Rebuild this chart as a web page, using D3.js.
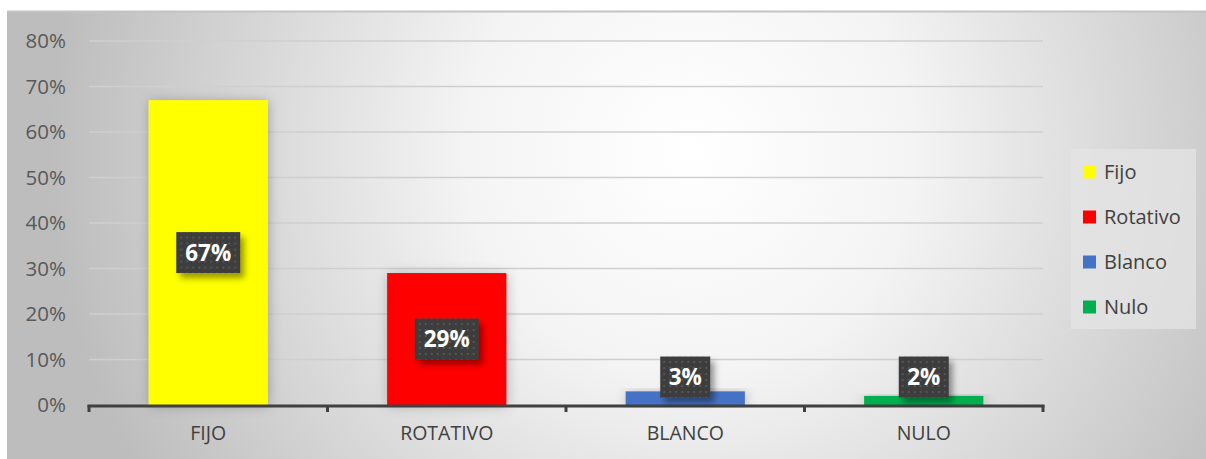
<!DOCTYPE html>
<html>
<head>
<meta charset="utf-8">
<script src="https://cdn.jsdelivr.net/npm/d3@7"></script>
<style>
  html, body { margin: 0; padding: 0; background: #fff; }
  svg { display: block; }
</style>
</head>
<body>
<svg id="chart" width="1206" height="459"></svg>
<script>
// Categories, values and legend names
const categories = ["FIJO", "ROTATIVO", "BLANCO", "NULO"];
const legendNames = ["Fijo", "Rotativo", "Blanco", "Nulo"];
const values = [0.67, 0.29, 0.03, 0.02];
const colors = ["#FFFF00", "#FF0000", "#4472C4", "#00B050"];
const yTicks = [0, 0.1, 0.2, 0.3, 0.4, 0.5, 0.6, 0.7, 0.8];

const svg = d3.select("#chart");
const W = 1206, H = 459;
const font = "'Open Sans', 'Noto Sans', 'Liberation Sans', sans-serif";

const defs = svg.append("defs");

// Radial background fill of the chart area
const bg = defs.append("radialGradient")
  .attr("id", "bgGrad")
  .attr("gradientUnits", "userSpaceOnUse")
  .attr("cx", 690).attr("cy", 150).attr("r", 640);
bg.append("stop").attr("offset", "0%").attr("stop-color", "#ffffff");
bg.append("stop").attr("offset", "35%").attr("stop-color", "#f4f4f4");
bg.append("stop").attr("offset", "100%").attr("stop-color", "#bdbdbd");

// Soft shadow for bars
const barShadow = defs.append("filter").attr("id", "barShadow")
  .attr("x", "-20%").attr("y", "-20%").attr("width", "140%").attr("height", "140%");
barShadow.append("feDropShadow")
  .attr("dx", 1).attr("dy", 1).attr("stdDeviation", 6)
  .attr("flood-color", "#000").attr("flood-opacity", 0.25);

// Shadow for label boxes
const lblShadow = defs.append("filter").attr("id", "lblShadow")
  .attr("x", "-30%").attr("y", "-30%").attr("width", "170%").attr("height", "170%");
lblShadow.append("feDropShadow")
  .attr("dx", 4).attr("dy", 5).attr("stdDeviation", 3)
  .attr("flood-color", "#000").attr("flood-opacity", 0.4);

// Dotted texture of the label boxes
const pat = defs.append("pattern").attr("id", "dots")
  .attr("patternUnits", "userSpaceOnUse").attr("width", 6).attr("height", 6);
pat.append("rect").attr("width", 6).attr("height", 6).attr("fill", "#3c3c3c");
pat.append("rect").attr("x", 2).attr("y", 2).attr("width", 2).attr("height", 2).attr("fill", "#565656");

// Chart area
svg.append("rect").attr("x", 7).attr("y", 11).attr("width", W - 7).attr("height", H - 11)
  .attr("fill", "url(#bgGrad)");
svg.append("line").attr("x1", 7).attr("x2", W).attr("y1", 11.5).attr("y2", 11.5)
  .attr("stroke", "#c4c4c4").attr("stroke-width", 2);

const plot = { left: 89, right: 1043, top: 41, bottom: 405 };

const x = d3.scaleBand().domain(categories).range([plot.left, plot.right]).paddingInner(0.5).paddingOuter(0.25);
const xb = d3.scaleBand().domain(categories).range([plot.left, plot.right]);
const y = d3.scaleLinear().domain([0, 0.8]).range([plot.bottom, plot.top]);

// Gridlines
svg.append("g").selectAll("line").data(yTicks.filter(d => d > 0)).join("line")
  .attr("x1", plot.left).attr("x2", plot.right)
  .attr("y1", d => y(d)).attr("y2", d => y(d))
  .attr("stroke", "#cfcfcf").attr("stroke-width", 1.5);

// Y axis labels
const yAxis = d3.axisLeft(y).tickValues(yTicks).tickFormat(d3.format(".0%")).tickSize(0).tickPadding(23);
const gy = svg.append("g").attr("transform", `translate(${plot.left},0)`).call(yAxis);
gy.select(".domain").remove();
gy.selectAll("text").attr("font-family", font).attr("font-size", 20.5).attr("fill", "#595959");

// Bars
svg.append("g").selectAll("rect").data(categories).join("rect")
  .attr("x", d => x(d)).attr("width", x.bandwidth())
  .attr("y", (d, i) => y(values[i]))
  .attr("height", (d, i) => y(0) - y(values[i]))
  .attr("fill", (d, i) => colors[i])
  .attr("filter", "url(#barShadow)");

// X axis
const xAxis = d3.axisBottom(xb).tickSize(0).tickPadding(21);
const gx = svg.append("g").attr("transform", `translate(0,${plot.bottom})`).call(xAxis);
gx.select(".domain").remove();
gx.selectAll("text").attr("font-family", font).attr("font-size", 19.5).attr("fill", "#404040");
const boundaries = categories.map(c => xb(c)).concat([plot.right]);
svg.append("line").attr("x1", plot.left - 1.5).attr("x2", plot.right + 1.5)
  .attr("y1", plot.bottom + 1).attr("y2", plot.bottom + 1)
  .attr("stroke", "#404040").attr("stroke-width", 3);
svg.append("g").selectAll("line").data(boundaries).join("line")
  .attr("x1", d => d).attr("x2", d => d)
  .attr("y1", plot.bottom).attr("y2", plot.bottom + 7)
  .attr("stroke", "#404040").attr("stroke-width", 3);

// Value labels
const fmt = d3.format(".0%");
const labels = svg.append("g").selectAll("g").data(categories).join("g")
  .attr("transform", (d, i) => {
    const cx = x(d) + x.bandwidth() / 2;
    const mid = (y(values[i]) + y(0)) / 2;
    const cy = Math.min(mid, y(0) - 28);
    return `translate(${cx},${cy})`;
  });
labels.each(function(d, i) {
  const g = d3.select(this);
  const txt = fmt(values[i]);
  const w = txt.length > 2 ? 64 : 50;
  g.append("rect").attr("x", -w / 2).attr("y", -20.5).attr("width", w).attr("height", 41)
    .attr("fill", "url(#dots)").attr("filter", "url(#lblShadow)");
  g.append("text").attr("text-anchor", "middle").attr("dy", "0.36em")
    .attr("font-family", font).attr("font-weight", "bold").attr("font-size", 22.5)
    .attr("fill", "#ffffff").text(txt);
});

// Legend
svg.append("rect").attr("x", 1071).attr("y", 149).attr("width", 125).attr("height", 180)
  .attr("fill", "#e4e4e4").attr("fill-opacity", 0.75);
const leg = svg.append("g").selectAll("g").data(legendNames).join("g")
  .attr("transform", (d, i) => `translate(1083,${172 + i * 45})`);
leg.append("rect").attr("x", 0).attr("y", -6.5).attr("width", 13).attr("height", 13)
  .attr("fill", (d, i) => colors[i]);
leg.append("text").attr("x", 21).attr("dy", "0.35em")
  .attr("font-family", font).attr("font-size", 20).attr("fill", "#404040").text(d => d);
</script>
</body>
</html>
